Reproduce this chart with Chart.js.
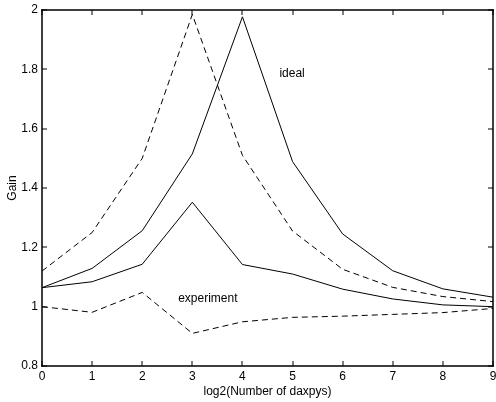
<!DOCTYPE html>
<html>
<head>
<meta charset="utf-8">
<script src="https://cdn.jsdelivr.net/npm/chart.js@4/dist/chart.umd.min.js"></script>
<style>
  html, body { margin: 0; padding: 0; background: #fff; }
</style>
</head>
<body>
<canvas id="myChart" width="496" height="402"></canvas>
<script>
var xValues = [0, 1, 2, 3, 4, 5, 6, 7, 8, 9];

var idealDashed = [1.12, 1.25, 1.50, 1.985, 1.51, 1.255, 1.126, 1.065, 1.034, 1.017];
var idealSolid = [1.064, 1.129, 1.256, 1.515, 1.977, 1.489, 1.245, 1.121, 1.060, 1.032];
var experimentSolid = [1.064, 1.084, 1.143, 1.352, 1.142, 1.110, 1.059, 1.026, 1.006, 1.000];
var experimentDashed = [1.0, 0.981, 1.048, 0.910, 0.949, 0.964, 0.968, 0.974, 0.980, 0.994];

var yTicks = [0.8, 1.0, 1.2, 1.4, 1.6, 1.8, 2.0];

var notes = [
    { text: 'ideal', x: 4.99, y: 1.785 },
    { text: 'experiment', x: 3.31, y: 1.026 }
];

var FONT = '"Liberation Sans", Arial, Helvetica, sans-serif';

function toPoints(arr) {
    var pts = [];
    for (let i = 0; i < arr.length; i++) {
        pts.push({ x: xValues[i], y: arr[i] });
    }
    return pts;
}

function makeSet(label, arr, dashed) {
    return {
        label: label,
        data: toPoints(arr),
        borderColor: '#000',
        borderWidth: 1,
        borderDash: dashed ? [6, 4] : [],
        pointRadius: 0,
        tension: 0,
        fill: false
    };
}

// box round the plot, inward ticks on all four sides, text notes
var framePlugin = {
    id: 'frameTicks',
    afterDraw: function (chart) {
        var ctx = chart.ctx;
        var a = chart.chartArea;
        var xs = chart.scales.x;
        var ys = chart.scales.y;
        var len = 5;
        var w = 1.5;
        ctx.save();
        ctx.setLineDash([]);
        ctx.globalAlpha = 1;
        ctx.fillStyle = '#000';

        // frame edges as filled strips
        ctx.fillRect(a.left - w / 2, a.top - w / 2, a.right - a.left + w, w);
        ctx.fillRect(a.left - w / 2, a.bottom - w / 2, a.right - a.left + w, w);
        ctx.fillRect(a.left - w / 2, a.top - w / 2, w, a.bottom - a.top + w);
        ctx.fillRect(a.right - w / 2, a.top - w / 2, w, a.bottom - a.top + w);

        for (let i = 0; i < xValues.length; i++) {
            var px = Math.round(xs.getPixelForValue(xValues[i]));
            ctx.fillRect(px - 0.5, a.bottom - len, 1, len);
            ctx.fillRect(px - 0.5, a.top, 1, len);
        }
        for (let j = 0; j < yTicks.length; j++) {
            var py = Math.round(ys.getPixelForValue(yTicks[j]));
            ctx.fillRect(a.left, py - 0.5, len, 1);
            ctx.fillRect(a.right - len, py - 0.5, len, 1);
        }

        ctx.font = '12px ' + FONT;
        ctx.textAlign = 'center';
        ctx.textBaseline = 'middle';
        for (let k = 0; k < notes.length; k++) {
            ctx.fillText(notes[k].text, xs.getPixelForValue(notes[k].x), ys.getPixelForValue(notes[k].y));
        }
        ctx.restore();
    }
};

function drawChart() {
    var ctx = document.getElementById('myChart');
    var myChart = new Chart(ctx, {
        type: 'line',
        data: {
            datasets: [
                makeSet('ideal dashed', idealDashed, true),
                makeSet('ideal', idealSolid, false),
                makeSet('experiment', experimentSolid, false),
                makeSet('experiment dashed', experimentDashed, true)
            ]
        },
        options: {
            responsive: false,
            animation: false,
            layout: { padding: { left: 0, right: 3, top: 10, bottom: 0 } },
            plugins: {
                legend: { display: false },
                tooltip: { enabled: false }
            },
            scales: {
                x: {
                    type: 'linear',
                    min: 0,
                    max: 9,
                    grid: { display: false, drawTicks: false, tickLength: 0 },
                    border: { display: false },
                    ticks: {
                        stepSize: 1,
                        color: '#000',
                        padding: 3,
                        maxRotation: 0,
                        font: { family: FONT, size: 12 }
                    },
                    title: {
                        display: true,
                        text: 'log2(Number of daxpys)',
                        color: '#000',
                        padding: { top: 0, bottom: 3 },
                        font: { family: FONT, size: 12 }
                    },
                    afterFit: function (scale) {
                        scale.height = 36;
                        scale.paddingLeft = 0;
                        scale.paddingRight = 0;
                    }
                },
                y: {
                    min: 0.8,
                    max: 2,
                    grid: { display: false, drawTicks: false, tickLength: 0 },
                    border: { display: false },
                    afterBuildTicks: function (scale) {
                        scale.ticks = yTicks.map(function (v) { return { value: v }; });
                    },
                    ticks: {
                        color: '#000',
                        padding: 4,
                        font: { family: FONT, size: 12 },
                        callback: function (value) {
                            return String(Number(value.toFixed(1)));
                        }
                    },
                    title: {
                        display: true,
                        text: 'Gain',
                        color: '#000',
                        padding: { top: 5, bottom: 0 },
                        font: { family: FONT, size: 12 }
                    },
                    afterFit: function (scale) {
                        scale.width = 42;
                        scale.paddingTop = 0;
                        scale.paddingBottom = 0;
                    }
                }
            }
        },
        plugins: [framePlugin]
    });
}

drawChart();
</script>
</body>
</html>
